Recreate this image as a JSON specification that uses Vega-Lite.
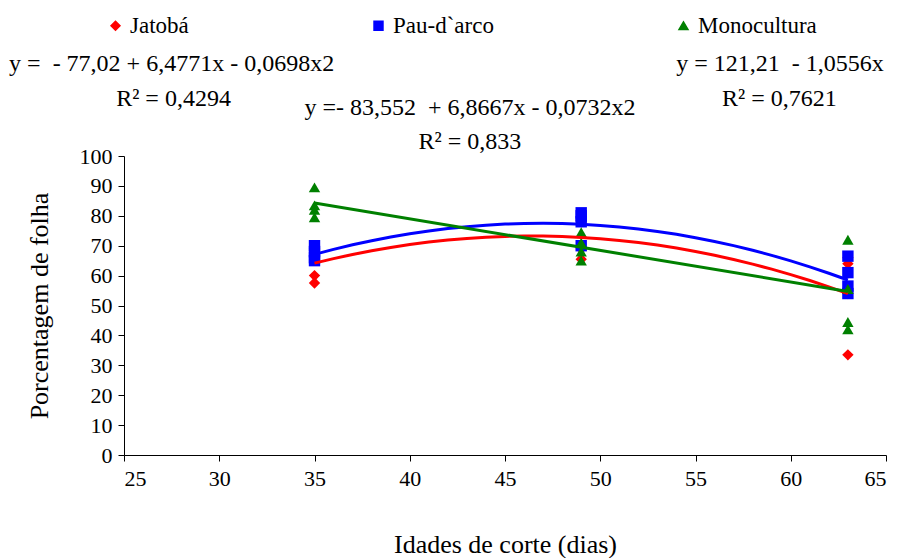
{
  "$schema": "https://vega.github.io/schema/vega-lite/v6.json",
  "width": 762,
  "height": 299,
  "autosize": {"type": "none"},
  "padding": {"left": 124, "top": 156, "right": 14, "bottom": 103},
  "background": "white",
  "config": {
    "view": {"stroke": null},
    "font": "Liberation Serif",
    "text": {"font": "Liberation Serif"},
    "style": {"guide-label": {"font": "Liberation Serif", "fontSize": 22, "fill": "black"}, "guide-title": {"font": "Liberation Serif"}},
    "axis": {"grid": false, "domainColor": "black", "tickColor": "black", "labelColor": "black", "titleColor": "black", "labelFont": "Liberation Serif", "titleFont": "Liberation Serif", "labelFontSize": 22, "titleFontSize": 26, "titleFontWeight": "normal", "tickSize": 6, "labelOverlap": false},
    "legend": {"labelFont": "Liberation Serif", "labelFontSize": 23, "labelColor": "black"}
  },
  "datasets": {
    "pts": [
      {"serie": "Jatobá", "x": 35, "y": 57.5}, {"serie": "Jatobá", "x": 35, "y": 60}, {"serie": "Jatobá", "x": 35, "y": 69}, {"serie": "Jatobá", "x": 35, "y": 70},
      {"serie": "Jatobá", "x": 49, "y": 78.5}, {"serie": "Jatobá", "x": 49, "y": 78}, {"serie": "Jatobá", "x": 49, "y": 69}, {"serie": "Jatobá", "x": 49, "y": 65.5},
      {"serie": "Jatobá", "x": 63, "y": 66}, {"serie": "Jatobá", "x": 63, "y": 64}, {"serie": "Jatobá", "x": 63, "y": 54}, {"serie": "Jatobá", "x": 63, "y": 33.5},
      {"serie": "Pau-d`arco", "x": 35, "y": 70}, {"serie": "Pau-d`arco", "x": 35, "y": 68}, {"serie": "Pau-d`arco", "x": 35, "y": 66}, {"serie": "Pau-d`arco", "x": 35, "y": 65},
      {"serie": "Pau-d`arco", "x": 49, "y": 81}, {"serie": "Pau-d`arco", "x": 49, "y": 80}, {"serie": "Pau-d`arco", "x": 49, "y": 78}, {"serie": "Pau-d`arco", "x": 49, "y": 70},
      {"serie": "Pau-d`arco", "x": 63, "y": 66.5}, {"serie": "Pau-d`arco", "x": 63, "y": 61}, {"serie": "Pau-d`arco", "x": 63, "y": 56.5}, {"serie": "Pau-d`arco", "x": 63, "y": 54},
      {"serie": "Monocultura", "x": 35, "y": 89.5}, {"serie": "Monocultura", "x": 35, "y": 83.5}, {"serie": "Monocultura", "x": 35, "y": 82}, {"serie": "Monocultura", "x": 35, "y": 79.5},
      {"serie": "Monocultura", "x": 49, "y": 74.5}, {"serie": "Monocultura", "x": 49, "y": 71}, {"serie": "Monocultura", "x": 49, "y": 68}, {"serie": "Monocultura", "x": 49, "y": 65},
      {"serie": "Monocultura", "x": 63, "y": 72}, {"serie": "Monocultura", "x": 63, "y": 55.5}, {"serie": "Monocultura", "x": 63, "y": 44.5}, {"serie": "Monocultura", "x": 63, "y": 42}
    ],
    "fit": [
      {"serie": "Jatobá", "x": 35, "y": 64.17}, {"serie": "Jatobá", "x": 36, "y": 65.69}, {"serie": "Jatobá", "x": 37, "y": 67.08}, {"serie": "Jatobá", "x": 38, "y": 68.32}, {"serie": "Jatobá", "x": 39, "y": 69.42}, {"serie": "Jatobá", "x": 40, "y": 70.38}, {"serie": "Jatobá", "x": 41, "y": 71.21}, {"serie": "Jatobá", "x": 42, "y": 71.89}, {"serie": "Jatobá", "x": 43, "y": 72.44}, {"serie": "Jatobá", "x": 44, "y": 72.84}, {"serie": "Jatobá", "x": 45, "y": 73.1}, {"serie": "Jatobá", "x": 46, "y": 73.23}, {"serie": "Jatobá", "x": 47, "y": 73.22}, {"serie": "Jatobá", "x": 48, "y": 73.06}, {"serie": "Jatobá", "x": 49, "y": 72.77}, {"serie": "Jatobá", "x": 50, "y": 72.34}, {"serie": "Jatobá", "x": 51, "y": 71.76}, {"serie": "Jatobá", "x": 52, "y": 71.05}, {"serie": "Jatobá", "x": 53, "y": 70.2}, {"serie": "Jatobá", "x": 54, "y": 69.21}, {"serie": "Jatobá", "x": 55, "y": 68.08}, {"serie": "Jatobá", "x": 56, "y": 66.8}, {"serie": "Jatobá", "x": 57, "y": 65.39}, {"serie": "Jatobá", "x": 58, "y": 63.84}, {"serie": "Jatobá", "x": 59, "y": 62.16}, {"serie": "Jatobá", "x": 60, "y": 60.33}, {"serie": "Jatobá", "x": 61, "y": 58.36}, {"serie": "Jatobá", "x": 62, "y": 56.25}, {"serie": "Jatobá", "x": 63, "y": 54.0},
      {"serie": "Pau-d`arco", "x": 35, "y": 67.11}, {"serie": "Pau-d`arco", "x": 36, "y": 68.78}, {"serie": "Pau-d`arco", "x": 37, "y": 70.31}, {"serie": "Pau-d`arco", "x": 38, "y": 71.68}, {"serie": "Pau-d`arco", "x": 39, "y": 72.91}, {"serie": "Pau-d`arco", "x": 40, "y": 74.0}, {"serie": "Pau-d`arco", "x": 41, "y": 74.93}, {"serie": "Pau-d`arco", "x": 42, "y": 75.72}, {"serie": "Pau-d`arco", "x": 43, "y": 76.37}, {"serie": "Pau-d`arco", "x": 44, "y": 76.87}, {"serie": "Pau-d`arco", "x": 45, "y": 77.22}, {"serie": "Pau-d`arco", "x": 46, "y": 77.43}, {"serie": "Pau-d`arco", "x": 47, "y": 77.48}, {"serie": "Pau-d`arco", "x": 48, "y": 77.4}, {"serie": "Pau-d`arco", "x": 49, "y": 77.16}, {"serie": "Pau-d`arco", "x": 50, "y": 76.78}, {"serie": "Pau-d`arco", "x": 51, "y": 76.26}, {"serie": "Pau-d`arco", "x": 52, "y": 75.58}, {"serie": "Pau-d`arco", "x": 53, "y": 74.76}, {"serie": "Pau-d`arco", "x": 54, "y": 73.8}, {"serie": "Pau-d`arco", "x": 55, "y": 72.69}, {"serie": "Pau-d`arco", "x": 56, "y": 71.43}, {"serie": "Pau-d`arco", "x": 57, "y": 70.02}, {"serie": "Pau-d`arco", "x": 58, "y": 68.47}, {"serie": "Pau-d`arco", "x": 59, "y": 66.77}, {"serie": "Pau-d`arco", "x": 60, "y": 64.93}, {"serie": "Pau-d`arco", "x": 61, "y": 62.94}, {"serie": "Pau-d`arco", "x": 62, "y": 60.8}, {"serie": "Pau-d`arco", "x": 63, "y": 58.52},
      {"serie": "Monocultura", "x": 35, "y": 84.26}, {"serie": "Monocultura", "x": 63, "y": 54.71}
    ],
    "notes": [
      {"x": 27.5, "y": 130.8, "t": "y = \u00a0- 77,02 + 6,4771x - 0,0698x2"},
      {"x": 27.6, "y": 118.9, "t": "R² = 0,4294"},
      {"x": 43.16, "y": 116.1, "t": "y =- 83,552 \u00a0+ 6,8667x - 0,0732x2"},
      {"x": 43.16, "y": 104.6, "t": "R² = 0,833"},
      {"x": 59.44, "y": 130.8, "t": "y = 121,21 \u00a0- 1,0556x"},
      {"x": 59.4, "y": 118.9, "t": "R² = 0,7621"}
    ]
  },
  "encoding": {
    "x": {"field": "x", "type": "quantitative", "scale": {"domain": [25, 65], "nice": false}, "axis": {"values": [25, 30, 35, 40, 45, 50, 55, 60, 65], "title": "Idades de corte (dias)", "titlePadding": 42, "labelPadding": 7, "labelOverlap": false, "labelFont": "Liberation Serif", "labelFontSize": 22, "encode": {"labels": {"update": {"font": {"value": "Liberation Serif"}, "fontSize": {"value": 22}}}}}},
    "y": {"field": "y", "type": "quantitative", "scale": {"domain": [0, 100], "nice": false}, "axis": {"values": [0, 10, 20, 30, 40, 50, 60, 70, 80, 90, 100], "title": "Porcentagem de folha", "titlePadding": 27, "labelPadding": 6, "labelOverlap": false, "labelFont": "Liberation Serif", "labelFontSize": 22, "encode": {"labels": {"update": {"font": {"value": "Liberation Serif"}, "fontSize": {"value": 22}}}}}}
  },
  "layer": [
    {
      "data": {"name": "pts"},
      "mark": {"type": "point", "filled": true, "opacity": 1, "size": 130},
      "encoding": {
        "color": {"field": "serie", "type": "nominal", "scale": {"domain": ["Jatobá", "Pau-d`arco", "Monocultura"], "range": ["#FF0000", "#0000FF", "#008000"]}, "legend": {"title": null, "orient": "none", "legendX": -20, "legendY": -142, "direction": "horizontal", "columns": 3, "columnPadding": 178, "symbolSize": 80, "labelOffset": 3, "labelFont": "Liberation Serif", "labelFontSize": 23, "encode": {"labels": {"update": {"font": {"value": "Liberation Serif"}, "fontSize": {"value": 23}}}}}},
        "shape": {"field": "serie", "type": "nominal", "scale": {"domain": ["Jatobá", "Pau-d`arco", "Monocultura"], "range": ["diamond", "square", "triangle-up"]}, "legend": {"title": null, "orient": "none", "legendX": -20, "legendY": -142, "direction": "horizontal", "columns": 3, "columnPadding": 178, "symbolSize": 80, "labelOffset": 3, "labelFont": "Liberation Serif", "labelFontSize": 23, "encode": {"labels": {"update": {"font": {"value": "Liberation Serif"}, "fontSize": {"value": 23}}}}}}
      }
    },
    {
      "data": {"name": "fit"},
      "mark": {"type": "line", "strokeWidth": 3, "interpolate": "linear"},
      "encoding": {
        "color": {"field": "serie", "type": "nominal", "legend": null},
        "detail": {"field": "serie"}
      }
    },
    {
      "data": {"name": "notes"},
      "mark": {"type": "text", "font": "Liberation Serif", "fontSize": 24, "color": "black", "align": "center", "baseline": "middle", "clip": false},
      "encoding": {
        "text": {"field": "t"}
      }
    }
  ]
}
